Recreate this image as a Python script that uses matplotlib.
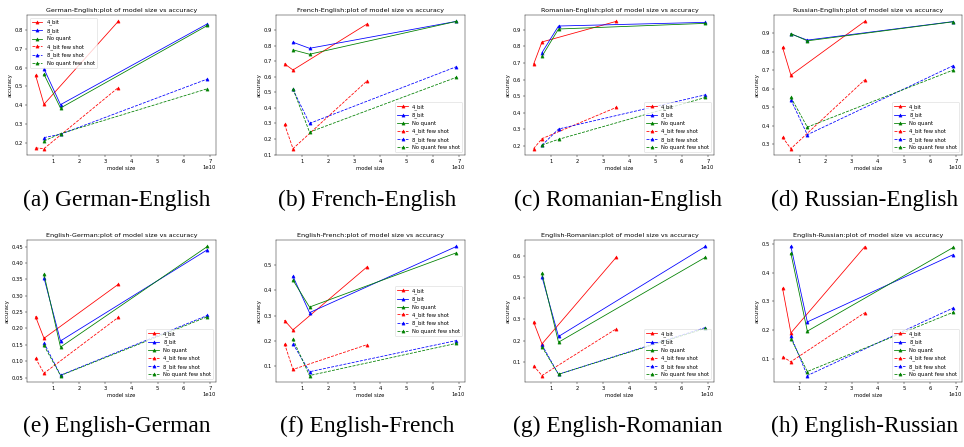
import matplotlib
matplotlib.use("Agg")
import matplotlib.pyplot as plt

# model sizes (parameters)
size_4bit = [0.35e10, 0.67e10, 3.5e10]
size_other = [0.67e10, 1.3e10, 6.9e10]

pairs = ["German-English", "French-English", "Romanian-English", "Russian-English",
         "English-German", "English-French", "English-Romanian", "English-Russian"]
captions = ["(a) German-English", "(b) French-English", "(c) Romanian-English",
            "(d) Russian-English", "(e) English-German", "(f) English-French",
            "(g) English-Romanian", "(h) English-Russian"]

# accuracy, one row per language pair (same order as pairs)
acc_4bit = [[0.56, 0.405, 0.848], [0.682, 0.643, 0.939], [0.692, 0.826, 0.95], [0.823, 0.673, 0.963],
            [0.236, 0.170, 0.335], [0.281, 0.244, 0.493], [0.287, 0.184, 0.592], [0.346, 0.191, 0.49]]
acc_8bit = [[0.595, 0.403, 0.835], [0.821, 0.782, 0.955], [0.762, 0.922, 0.944], [0.895, 0.862, 0.962],
            [0.355, 0.162, 0.441], [0.455, 0.312, 0.573], [0.50, 0.219, 0.643], [0.491, 0.229, 0.463]]
acc_noquant = [[0.565, 0.385, 0.826], [0.772, 0.744, 0.955], [0.74, 0.904, 0.938], [0.897, 0.858, 0.961],
               [0.366, 0.143, 0.451], [0.44, 0.334, 0.548], [0.516, 0.192, 0.592], [0.467, 0.197, 0.488]]
acc_4bit_fs = [[0.172, 0.168, 0.494], [0.293, 0.138, 0.574], [0.184, 0.244, 0.432], [0.338, 0.277, 0.648],
               [0.109, 0.063, 0.234], [0.189, 0.088, 0.186], [0.081, 0.035, 0.255], [0.108, 0.091, 0.261]]
acc_8bit_fs = [[0.227, 0.245, 0.54], [0.518, 0.30, 0.664], [0.204, 0.302, 0.508], [0.540, 0.352, 0.725],
               [0.156, 0.057, 0.24], [0.189, 0.079, 0.202], [0.179, 0.041, 0.261], [0.179, 0.043, 0.278]]
acc_noquant_fs = [[0.209, 0.248, 0.488], [0.522, 0.244, 0.596], [0.206, 0.24, 0.492], [0.553, 0.393, 0.701],
                  [0.148, 0.056, 0.236], [0.207, 0.064, 0.191], [0.17, 0.041, 0.257], [0.171, 0.057, 0.263]]

legend_loc = ["upper left", "lower right", "lower right", "lower right",
              "lower right", "center right", "lower right", "lower right"]

# the panels are default-style matplotlib plots shrunk to ~38%, so draw at a low dpi
DPI = 38
W, H = 964, 447
fig = plt.figure(figsize=(W / DPI, H / DPI), dpi=DPI)

# axes boxes in pixels: left, right for the 4 columns; top, bottom for the 2 rows
cols = [(27, 216), (276, 465), (525, 714), (774, 962)]
rows = [(15, 155), (240, 382)]
cap_x = [117, 367, 618, 865]
cap_y = [206, 432]

for i, pair in enumerate(pairs):
    r, c = divmod(i, 4)
    l, rr = cols[c]
    t, b = rows[r]
    ax = fig.add_axes([l / W, 1 - b / H, (rr - l) / W, (b - t) / H])

    ax.plot(size_4bit, acc_4bit[i], 'r^-', label='4_bit')
    ax.plot(size_other, acc_8bit[i], 'b^-', label='8_bit')
    ax.plot(size_other, acc_noquant[i], 'g^-', label='No quant')
    ax.plot(size_4bit, acc_4bit_fs[i], 'r^--', label='4_bit few shot')
    ax.plot(size_other, acc_8bit_fs[i], 'b^--', label='8_bit few shot')
    ax.plot(size_other, acc_noquant_fs[i], 'g^--', label='No quant few shot')

    ax.set_title(pair + ':plot of model size vs accuracy')
    ax.set_xlabel('model size')
    ax.set_ylabel('accuracy')
    ax.legend(loc=legend_loc[i])

    fig.text(cap_x[c] / W, 1 - cap_y[r] / H, captions[i], fontsize=44.5,
             family='Liberation Serif', ha='center', va='baseline')

fig.savefig('out.png', dpi=DPI)
